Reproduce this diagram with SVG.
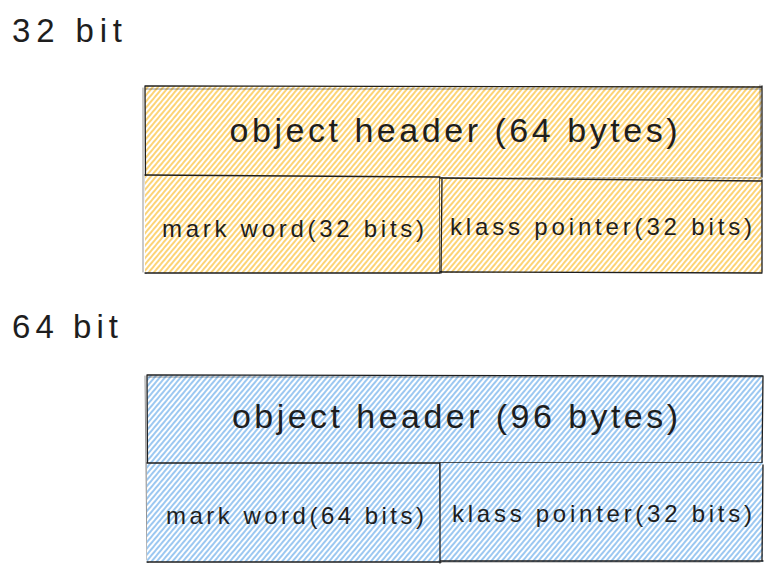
<svg xmlns="http://www.w3.org/2000/svg" width="773" height="574" viewBox="0 0 773 574">
<style>
.lbl{font-family:"Liberation Sans","DejaVu Sans",sans-serif;fill:#1e1e1e}
.big{font-size:34px}
.mid{font-size:24px}
.ttl{font-size:33px}
.edge{fill:none;stroke:#1e1e1e;stroke-width:1.3;stroke-linecap:round}
.edge2{fill:none;stroke:#1e1e1e;stroke-width:0.8;stroke-opacity:0.6;stroke-linecap:round}
</style>
<defs>
<pattern id="hY" patternUnits="userSpaceOnUse" width="4" height="10" patternTransform="rotate(40)">
<rect width="4" height="10" fill="#ffffff"/>
<line x1="1" y1="0" x2="1" y2="10" stroke="#fab005" stroke-width="1.1"/>
</pattern>
<pattern id="hB" patternUnits="userSpaceOnUse" width="4" height="10" patternTransform="rotate(40)">
<rect width="4" height="10" fill="#ffffff"/>
<line x1="1" y1="0" x2="1" y2="10" stroke="#4a9be6" stroke-width="1.1"/>
</pattern>
</defs>

<text class="lbl ttl" x="12" y="42" textLength="110">32 bit</text>
<text class="lbl ttl" x="12" y="338" textLength="106">64 bit</text>

<g id="header32">
<rect x="145" y="86" width="617" height="90" fill="url(#hY)"/>
<path class="edge" d="M145 86 L762 87 M762 86 L762 177 M145 86 L146 273"/>
<path class="edge2" d="M146 89 L761 89 M760 85 L761 178 M143 88 L143 272"/>
<text class="lbl big" x="453.5" y="142" text-anchor="middle" textLength="448">object header (64 bytes)</text>
</g>
<g id="mark32">
<rect x="145" y="176" width="295" height="97" fill="url(#hY)"/>
<path class="edge" d="M145 175 L440 177 M440 178 L440 273 M145 273 L440 273"/>
<text class="lbl mid" x="162" y="237" textLength="262">mark word(32 bits)</text>
</g>
<g id="klass32">
<rect x="440" y="177" width="322" height="96" fill="url(#hY)"/>
<path class="edge" d="M440 178 L762 181 M442 178 L441 273 M762 180 L762 272 M440 272 L762 273"/>
<path class="edge2" d="M440 178 L762 178"/>
<text class="lbl mid" x="450" y="235" textLength="302">klass pointer(32 bits)</text>
</g>

<g id="header64">
<rect x="147" y="375" width="616" height="88" fill="url(#hB)"/>
<path class="edge" d="M147 375 L762 376 M763 376 L762 462 M147 375 L148 562"/>
<path class="edge2" d="M148 377 L761 377 M145 376 L147 560"/>
<text class="lbl big" x="455" y="428" text-anchor="middle" textLength="446">object header (96 bytes)</text>
</g>
<g id="mark64">
<rect x="147" y="463" width="293" height="99" fill="url(#hB)"/>
<path class="edge" d="M147 463 L762 463 M440 464 L441 562 M147 562 L440 562"/>
<text class="lbl mid" x="166" y="524" textLength="258">mark word(64 bits)</text>
</g>
<g id="klass64">
<rect x="440" y="463" width="323" height="99" fill="url(#hB)"/>
<path class="edge" d="M440 463 L440 563 M763 465 L762 561 M440 561 L763 561"/>
<path class="edge2" d="M441 562 L760 562"/>
<text class="lbl mid" x="452" y="522" textLength="300">klass pointer(32 bits)</text>
</g>
</svg>
